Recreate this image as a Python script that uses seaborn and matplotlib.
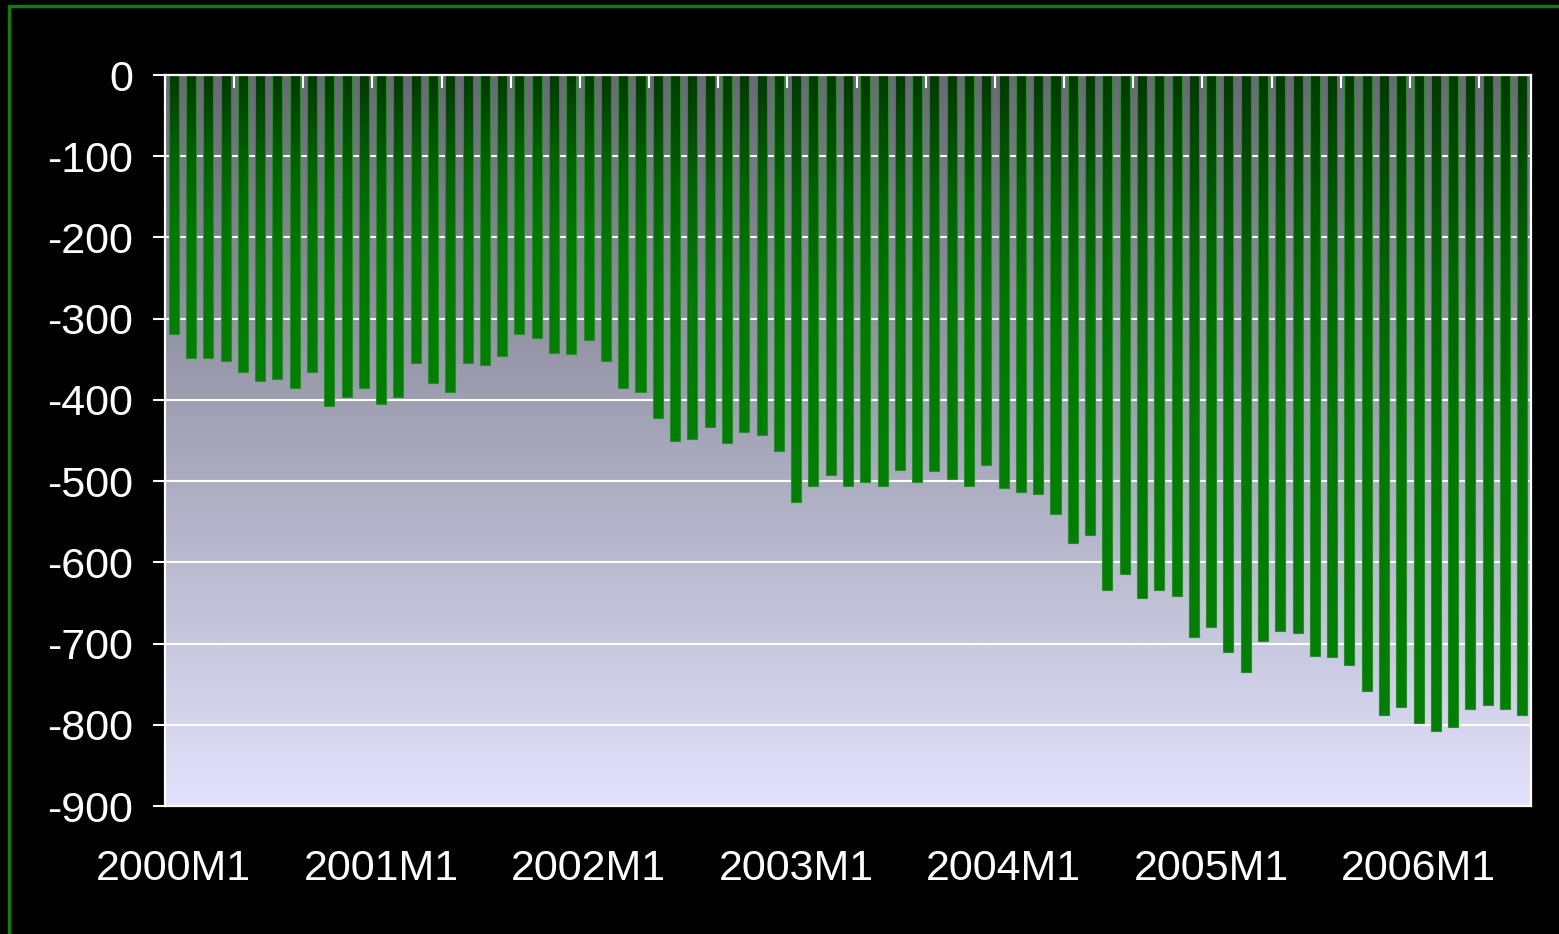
import numpy as np
import pandas as pd
import matplotlib
matplotlib.use("Agg")
import matplotlib.pyplot as plt
import seaborn as sns
from matplotlib.colors import LinearSegmentedColormap
from matplotlib.patches import Rectangle
from matplotlib.ticker import FixedLocator

# Monthly balance, 2000M1 .. 2006M7
years = list(range(2000, 2007))
periods = [f"{y}M{m}" for y in years for m in range(1, 13)][:79]
balance = [
    -319, -349, -349, -352, -366, -377, -374, -385, -366, -407, -397, -385,
    -405, -397, -354, -379, -390, -354, -357, -346, -319, -324, -342, -344,
    -326, -352, -385, -390, -422, -450, -448, -433, -453, -440, -443, -463,
    -526, -506, -493, -506, -501, -506, -486, -501, -488, -498, -506, -480,
    -508, -513, -516, -541, -576, -566, -634, -614, -644, -634, -642, -692,
    -680, -710, -735, -697, -685, -687, -715, -717, -727, -758, -788, -778,
    -798, -808, -803, -781, -776, -781, -788,
]
label_periods = [f"{y}M1" for y in years]
y_ticks = list(range(-900, 1, 100))

sns.set_theme(style="white")
plt.rcParams["font.family"] = ["Liberation Sans", "DejaVu Sans"]
plt.rcParams["axes.unicode_minus"] = False

df = pd.DataFrame({"period": periods, "balance": balance})

fig = plt.figure(figsize=(15.59, 9.34), dpi=100, facecolor="black")
ax = fig.add_axes([0.10584, 0.13704, 0.8762, 0.78266])
ax.set_facecolor("none")

sns.barplot(data=df, x="period", y="balance", color="#007800", saturation=1,
            width=0.58, edgecolor="#2a8c2a", linewidth=0.8, ax=ax)

n = len(periods)

# plot-area background: grey at the top fading to lavender at the bottom
bg_cmap = LinearSegmentedColormap.from_list("bg", ["#686876", "#a6a6ba", "#e2e2fc"])
bg = np.linspace(0, 1, 256).reshape(-1, 1)
ax.imshow(bg, extent=[-0.5, n - 0.5, -900, 0], aspect="auto", cmap=bg_cmap,
          origin="upper", zorder=-2, interpolation="bilinear")

# shaded green fill for each bar (dark at the zero line, bright at the tip)
bar_cmap = LinearSegmentedColormap.from_list(
    "bar", [(0.0, "#003a00"), (0.3, "#006400"), (0.6, "#007a00"), (1.0, "#008000")])
grad = np.linspace(0, 1, 128).reshape(-1, 1)
for p in ax.patches:
    x0, w = p.get_x(), p.get_width()
    y0, h = p.get_y(), p.get_height()
    im = ax.imshow(grad, extent=[x0, x0 + w, min(y0, y0 + h), max(y0, y0 + h)],
                   aspect="auto", cmap=bar_cmap, origin="upper", zorder=0.9,
                   interpolation="bilinear")
    im.set_clip_path(p)
    p.set_facecolor("none")
    p.set_zorder(1)

ax.set_xlim(-0.5, n - 0.5)
ax.set_ylim(-900, 0)

# grid and axes styling
ax.set_axisbelow(True)
ax.yaxis.grid(True, color="white", linewidth=1.5)
ax.xaxis.grid(False)
for side, sp in ax.spines.items():
    sp.set_visible(True)
    sp.set_color("white")
    sp.set_linewidth(1.6)

ax.set_yticks(y_ticks)
ax.set_yticklabels([str(v) for v in y_ticks])
ax.tick_params(axis="y", which="major", left=True, direction="out", length=9,
               width=1.5, color="white", labelcolor="white", labelsize=31, pad=14)

label_pos = [periods.index(lbl) for lbl in label_periods]
ax.set_xticks(label_pos)
ax.set_xticklabels(label_periods)
ax.tick_params(axis="x", which="major", bottom=True, top=False, length=0,
               labelcolor="white", labelsize=31, pad=31)
ax.xaxis.set_minor_locator(FixedLocator(np.arange(-0.5, n - 1, 4)))
ax.tick_params(axis="x", which="minor", top=True, bottom=False, direction="in",
               length=9, width=1.5, color="white")
ax.set_xlabel("")
ax.set_ylabel("")

# green frame around the figure
fig.patches.append(Rectangle((9 / 1559, -0.1), 1.2, 1 - 5.5 / 934 + 0.1,
                             transform=fig.transFigure, fill=False,
                             edgecolor="#0a7f0a", linewidth=2.4, clip_on=False))

fig.savefig("out.png", dpi=100, facecolor="black")
